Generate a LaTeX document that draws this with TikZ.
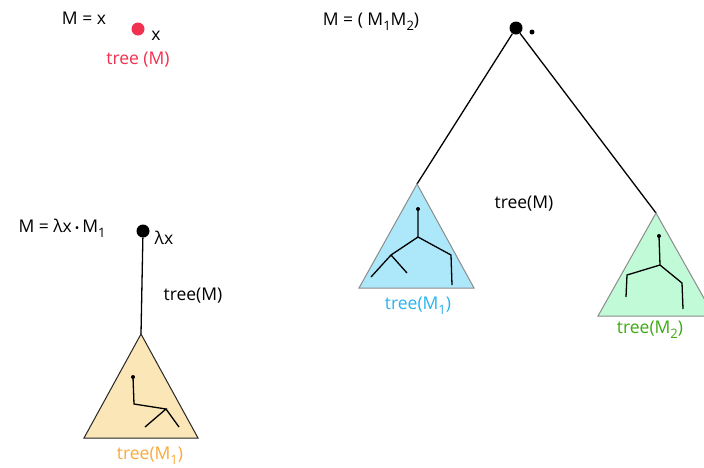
\documentclass[tikz,border=0pt]{standalone}
\usepackage{fontspec}
\setmainfont{Open Sans}
\usepackage{tikz}
\usetikzlibrary{calc}

\definecolor{termred}{RGB}{240,50,80}
\definecolor{skyfill}{RGB}{172,232,250}
\definecolor{skytext}{RGB}{40,180,240}
\definecolor{mintfill}{RGB}{192,250,215}
\definecolor{minttext}{RGB}{60,170,20}
\definecolor{wheatfill}{RGB}{250,230,182}
\definecolor{wheattext}{RGB}{250,170,60}

\newcommand{\lowidx}[1]{\raisebox{-0.5ex}{\fontsize{13}{14}\selectfont #1}}

\tikzset{
  bigdot/.style={circle,fill=black,inner sep=0pt,minimum size=13pt},
  tinydot/.style={circle,fill=black,inner sep=0pt,minimum size=4pt},
  subtree/.style={draw=gray!90,line width=1pt},
  branch/.style={line width=1.3pt},
  lbl/.style={inner sep=1pt}
}

\begin{document}
\begin{tikzpicture}[x=1pt,y=-1pt,font=\fontsize{17.5}{20}\selectfont]
  \clip (0,0) rectangle (704,467);
  \fill[white] (0,0) rectangle (704,467);

  % variable
  \node[lbl] (mvar) at (84,18) {M = x};
  \node[circle,fill=termred,inner sep=0pt,minimum size=13pt] (xdot) at (138,29) {};
  \node[lbl] (xname) at (156,36) {x};
  \node[lbl,text=termred] (xtree) at (138,60) {tree (M)};

  % application
  \node[lbl] (mapp) at (371,22) {M = ( M\lowidx{1}M\lowidx{2})};
  \node[bigdot] (app) at (516,28) {};
  \node[tinydot,minimum size=5pt] (appmark) at (532,32) {};
  \coordinate (lt) at (417,184);
  \coordinate (rt) at (656,213);
  \draw[branch] (app) -- (lt);
  \draw[branch] (app) -- (rt);
  \node[lbl] (apptree) at (524,204) {tree(M)};

  % left subtree M1
  \filldraw[subtree,fill=skyfill] (lt) -- (359,288) -- (474,288) -- cycle;
  \node[tinydot] (l0) at (418,209) {};
  \draw[branch] (l0.center) -- (418,237) -- (391,255) -- (371,277);
  \draw[branch] (391,255) -- (407,273);
  \draw[branch] (418,237) -- (451,255) -- (452,285);
  \node[lbl,text=skytext] (lname) at (418,306) {tree(M\lowidx{1})};

  % right subtree M2
  \filldraw[subtree,fill=mintfill] (rt) -- (598,316) -- (714,316) -- cycle;
  \node[tinydot] (r0) at (659,236) {};
  \draw[branch] (r0.center) -- (660,265) -- (627,275) -- (626,297);
  \draw[branch] (660,265) -- (682,283) -- (683,309);
  \node[lbl,text=minttext] (rname) at (650,330) {tree(M\lowidx{2})};

  % abstraction
  \node[lbl] (mabs) at (62,228) {M = λx\,{\fontsize{12}{14}\selectfont\textbullet}\,M\lowidx{1}};
  \node[bigdot] (abs) at (143,231) {};
  \node[lbl] (absname) at (164,238) {λx};
  \coordinate (bt) at (141,334);
  \draw[branch] (abs) -- (bt);
  \node[lbl] (abstree) at (193,296) {tree(M)};

  \filldraw[draw=black!85,line width=1pt,fill=wheatfill] (bt) -- (84,438) -- (198,438) -- cycle;
  \node[tinydot] (b0) at (133,377) {};
  \draw[branch] (b0.center) -- (134,404) -- (166,409) -- (145,427);
  \draw[branch] (166,409) -- (179,427);
  \node[lbl,text=wheattext] (bname) at (150,456) {tree(M\lowidx{1})};
\end{tikzpicture}
\end{document}
